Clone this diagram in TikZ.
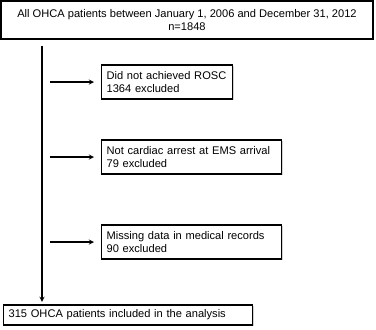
\documentclass[tikz,border=0pt]{standalone}
\usepackage{fontspec}
\setmainfont{Liberation Sans}
\usetikzlibrary{shadows}

\begin{document}
\begin{tikzpicture}[x=1bp, y=-1bp, thick, >=stealth,
    box/.style={draw, line width=1.3bp, fill=white, inner xsep=5bp,
        drop shadow={shadow xshift=1.3bp, shadow yshift=-1.3bp, fill=black!35},
        font=\fontsize{11.1bp}{13.6bp}\selectfont},
    exclbox/.style={box, anchor=west, align=left, minimum height=34bp}]
\useasboundingbox (0,0) rectangle (376,330);

% study population
\node[box, align=center, minimum width=372bp, minimum height=38bp] (all) at (187,20)
    {All OHCA patients between January 1, 2006 and December 31, 2012\\n=1848};

% exclusions
\node[exclbox, text width=121bp] (rosc) at (101,82)
    {Did not achieved ROSC\\1364 excluded};
\node[exclbox, text width=170bp] (ems) at (101,157)
    {Not cardiac arrest at EMS arrival\\79 excluded};
\node[exclbox, text width=170bp] (missing) at (101,242)
    {Missing data in medical records\\90 excluded};

% analysed
\node[box, anchor=west, align=left, text width=239bp, minimum height=20bp] (final) at (3,315)
    {315 OHCA patients included in the analysis};

% main flow
\coordinate (top) at (42,46);
\draw[->, line width=1.3bp, shorten >=2.5bp] (top) -- (top |- final.north);

% excluded branches
\foreach \excl in {rosc, ems, missing} {
    \coordinate (from) at (50,0 |- \excl.west);
    \draw[->, line width=1.3bp, shorten >=7bp] (from) -- (\excl.west);
}

\end{tikzpicture}
\end{document}
